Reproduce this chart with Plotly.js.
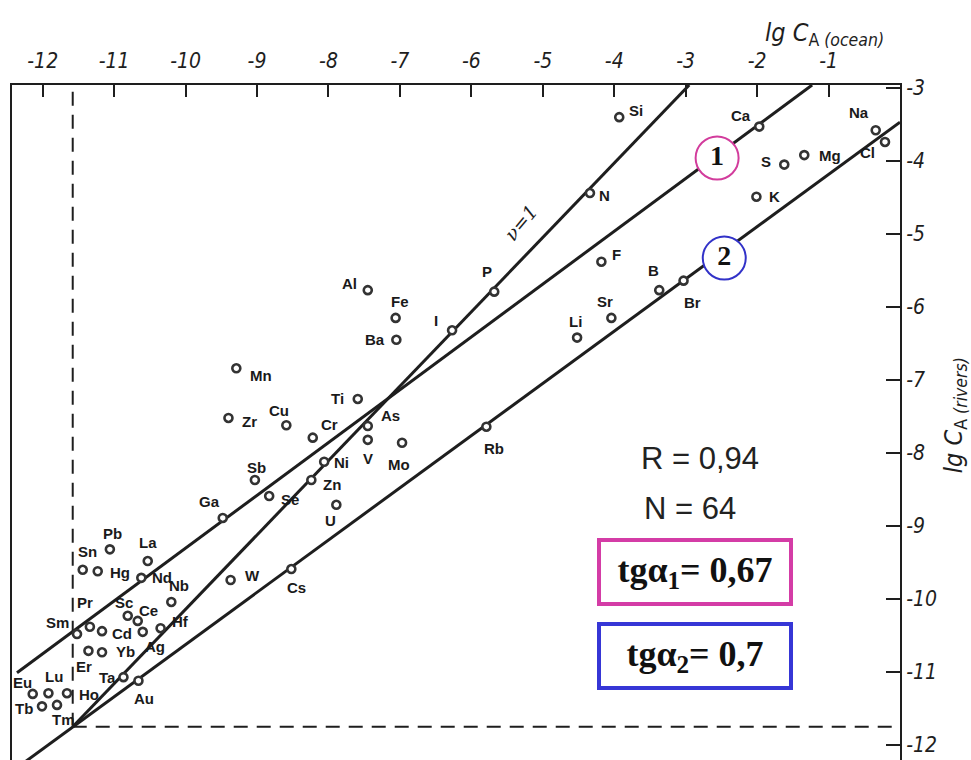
<!DOCTYPE html>
<html>
<head>
<meta charset="utf-8">
<script src="https://cdn.plot.ly/plotly-3.0.1.min.js"></script>
<style>
html,body{margin:0;padding:0;background:#fff;}
#chart{width:971px;height:760px;}
#chart .xtick text, #chart .ytick text{font-style:italic !important;}
</style>
</head>
<body>
<div id="chart"></div>
<script>
// ---- data ----
const elements = ['Si','Ca','Na','Cl','Mg','S','K','N','F','Br','B','Sr','Li','P','I','Al','Fe','Ba','Mn','Ti','As','V','Mo','Rb','Zr','Cu','Cr','Ni','Zn','Sb','Se','U','Ga','W','Cs','Pb','La','Sn','Hg','Nd','Nb','Sc','Ce','Hf','Cd','Ag','Pr','Sm','Er','Yb','Ta','Au','Eu','Lu','Ho','Tb','Tm'];
const lgOcean = [-3.93,-1.97,-0.34,-0.21,-1.34,-1.62,-2.01,-4.34,-4.18,-3.03,-3.37,-4.04,-4.52,-5.68,-6.27,-7.45,-7.06,-7.05,-9.29,-7.59,-7.45,-7.45,-6.97,-5.79,-9.40,-8.59,-8.22,-8.06,-8.24,-9.03,-8.83,-7.89,-9.48,-9.37,-8.52,-11.06,-10.53,-11.44,-11.23,-10.62,-10.20,-10.81,-10.67,-10.35,-11.17,-10.60,-11.34,-11.52,-11.36,-11.17,-10.87,-10.66,-12.14,-11.92,-11.66,-12.01,-11.80];
const lgRivers = [-3.40,-3.53,-3.58,-3.74,-3.92,-4.05,-4.49,-4.44,-5.38,-5.64,-5.77,-6.15,-6.42,-5.79,-6.32,-5.77,-6.15,-6.45,-6.84,-7.26,-7.63,-7.82,-7.86,-7.64,-7.52,-7.62,-7.79,-8.12,-8.37,-8.37,-8.59,-8.71,-8.89,-9.74,-9.59,-9.32,-9.48,-9.60,-9.62,-9.71,-10.04,-10.23,-10.30,-10.40,-10.44,-10.45,-10.38,-10.48,-10.71,-10.73,-11.07,-11.12,-11.30,-11.29,-11.29,-11.47,-11.45];

// regression / reference lines (end points)
const nuOneX = [-11.58, -2.95];
const nuOneY = [-11.75, -2.96];
const line1X = [-12.36, -1.23];
const line1Y = [-11.01, -2.96];
const line2X = [-12.40, 0.0];
const line2Y = [-12.34, -3.47];

// axis ticks
const xTickVals = [-12,-11,-10,-9,-8,-7,-6,-5,-4,-3,-2,-1];
const xTickText = ['-12','-11','-10','-9','-8','-7','-6','-5','-4','-3','-2','-1'];
const yTickVals = [-3,-4,-5,-6,-7,-8,-9,-10,-11,-12];
const yTickText = ['-3','-4','-5','-6','-7','-8','-9','-10','-11','-12'];

// statistics text
const statR = '0,94';
const statN = '64';
const tg1 = '0,67';
const tg2 = '0,7';

// ---- label placement (pixel offsets, style only) ----
const labelDx = [17,-18,-17,-18,26,-18,18,15,15,9,-6,-6,-2,-7,-16,-18,4,-21,25,-20,23,0,-3,8,21,-7,17,17,21,2,21,-6,-13,22,5,3,0,5,22,21,8,-4,11,20,20,12,-5,-20,-4,23,-16,6,-10,6,22,-18,6];
const labelDy = [-7,-11,-18,11,0,-3,0,2,-7,22,-20,-16,-16,-20,-10,-7,-16,0,7,0,-10,19,22,22,4,-15,-13,1,4,-13,3,16,-16,-5,18,-16,-19,-18,1,0,-16,-13,-10,-7,2,15,-24,-12,16,-1,0,18,-11,-17,1,2,15];

const xRange = [-12.43, 0];
const yRange = [-12.205, -2.96];
const ink = '#1e1e1e';

const traces = [
  {x: nuOneX, y: nuOneY, mode: 'lines', line: {color: ink, width: 3}, hoverinfo: 'skip'},
  {x: line1X, y: line1Y, mode: 'lines', line: {color: ink, width: 3}, hoverinfo: 'skip'},
  {x: line2X, y: line2Y, mode: 'lines', line: {color: ink, width: 3}, hoverinfo: 'skip'},
  // dashed guide lines from the corner of the nu=1 line
  {x: [nuOneX[0], nuOneX[0]], y: [nuOneY[0], yRange[1]], mode: 'lines', line: {color: ink, width: 2, dash: '14px,9px'}, hoverinfo: 'skip'},
  {x: [nuOneX[0], xRange[1]], y: [nuOneY[0], nuOneY[0]], mode: 'lines', line: {color: ink, width: 2, dash: '14px,9px'}, hoverinfo: 'skip'},
  // element points
  {x: lgOcean, y: lgRivers, text: elements, mode: 'markers', type: 'scatter',
   marker: {symbol: 'circle', size: 8, color: '#ffffff', line: {color: '#333', width: 2.6}}},
  // numbered line labels
  {x: [-2.56], y: [-3.96], mode: 'markers+text', text: ['<b>1</b>'], textposition: 'middle center',
   textfont: {family: 'Liberation Serif, Times New Roman, serif', size: 28, color: '#111'},
   marker: {size: 43, color: '#ffffff', line: {color: '#d23c9c', width: 2}}, hoverinfo: 'skip'},
  {x: [-2.46], y: [-5.33], mode: 'markers+text', text: ['<b>2</b>'], textposition: 'middle center',
   textfont: {family: 'Liberation Serif, Times New Roman, serif', size: 28, color: '#111'},
   marker: {size: 43, color: '#ffffff', line: {color: '#3232c8', width: 2}}, hoverinfo: 'skip'}
];

const labelFont = {family: 'Liberation Sans, Arial, sans-serif', size: 15, color: '#1a1a1a'};
const annotations = elements.map((el, i) => ({
  x: lgOcean[i], y: lgRivers[i], xref: 'x', yref: 'y', text: '<b>' + el + '</b>',
  showarrow: false, xshift: labelDx[i], yshift: -labelDy[i], font: labelFont,
  xanchor: 'center', yanchor: 'middle'
}));

const handFont = 'Liberation Sans Narrow, DejaVu Sans Condensed, Liberation Sans, sans-serif';
const c = {xanchor: 'center', yanchor: 'middle', showarrow: false};

annotations.push(
  Object.assign({x: -5.30, y: -4.84, xref: 'x', yref: 'y', text: '<i>ν=1</i>', textangle: -50,
   font: {family: 'DejaVu Serif, Liberation Serif, serif', size: 19, color: ink}}, c),
  Object.assign({x: 0.775, y: 0.446, xref: 'paper', yref: 'paper', text: 'R = ' + statR,
   font: {family: 'Liberation Sans, Arial, sans-serif', size: 31, color: '#222'}}, c),
  Object.assign({x: 0.764, y: 0.373, xref: 'paper', yref: 'paper', text: 'N = ' + statN,
   font: {family: 'Liberation Sans, Arial, sans-serif', size: 31, color: '#222'}}, c),
  Object.assign({x: 0.769, y: 0.2785, xref: 'paper', yref: 'paper', text: '<b>tgα<sub>1</sub>= ' + tg1 + '</b>',
   width: 186, height: 58, bgcolor: '#ffffff', bordercolor: '#d43ca6', borderwidth: 4, borderpad: 1,
   font: {family: 'Liberation Serif, Times New Roman, serif', size: 36, color: '#111'}}, c),
  Object.assign({x: 0.769, y: 0.154, xref: 'paper', yref: 'paper', text: '<b>tgα<sub>2</sub>= ' + tg2 + '</b>',
   width: 186, height: 58, bgcolor: '#ffffff', bordercolor: '#3636d6', borderwidth: 4, borderpad: 1,
   font: {family: 'Liberation Serif, Times New Roman, serif', size: 36, color: '#111'}}, c),
  Object.assign({x: 0.915, y: 1.075, xref: 'paper', yref: 'paper', text: '<i>lg C</i><sub>A <i>(ocean)</i></sub>',
   font: {family: handFont, size: 25, color: ink}}, c),
  Object.assign({x: 1.062, y: 0.511, xref: 'paper', yref: 'paper', text: '<i>lg C</i><sub>A <i>(rivers)</i></sub>',
   textangle: -90, font: {family: handFont, size: 25, color: ink}}, c)
);

const tickFont = {family: handFont, size: 21, color: ink, style: 'italic'};

const layout = {
  width: 971, height: 760,
  margin: {l: 12, r: 71, t: 85, b: 0},
  paper_bgcolor: '#ffffff', plot_bgcolor: '#ffffff',
  showlegend: false,
  xaxis: {range: xRange, side: 'top', tickvals: xTickVals, ticktext: xTickText,
          ticks: 'inside', ticklen: 12, tickwidth: 2, tickcolor: ink,
          showline: true, linewidth: 2, linecolor: ink, mirror: false,
          showgrid: false, zeroline: false, tickfont: tickFont, ticklabelstandoff: 7},
  yaxis: {range: yRange, side: 'right', tickvals: yTickVals, ticktext: yTickText,
          ticks: 'inside', ticklen: 14, tickwidth: 2, tickcolor: ink,
          showline: true, linewidth: 2, linecolor: ink, mirror: true,
          showgrid: false, zeroline: false, tickfont: tickFont},
  annotations: annotations,
  hovermode: false
};

Plotly.newPlot('chart', traces, layout, {displayModeBar: false, staticPlot: true});
</script>
</body>
</html>
